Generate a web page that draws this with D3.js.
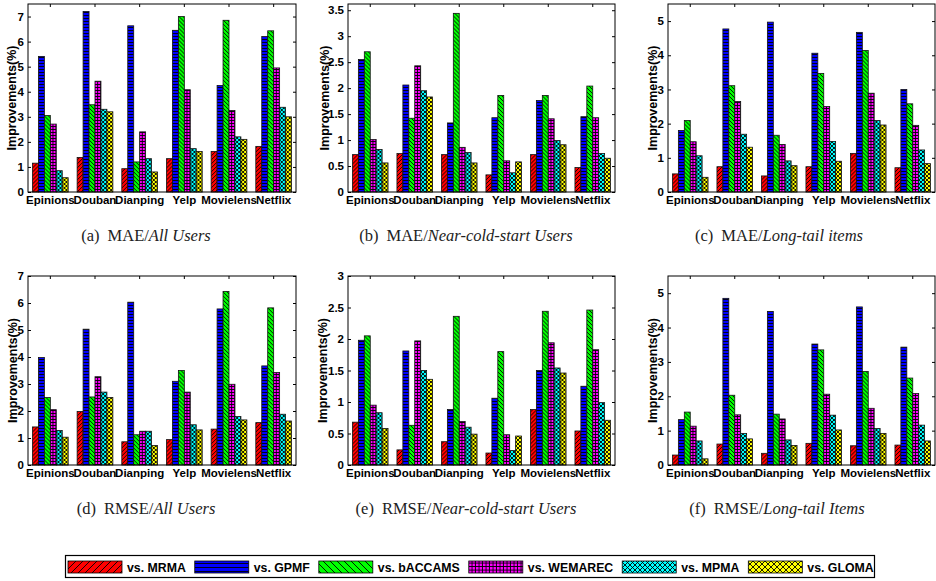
<!DOCTYPE html>
<html>
<head>
<meta charset="utf-8">
<script src="https://cdn.jsdelivr.net/npm/d3@7"></script>
<style>
  body { margin: 0; background: #fff; }
  svg { display: block; }
  .tick text { font-family: "Liberation Sans", Arial, sans-serif; font-weight: bold; }
</style>
</head>
<body>
<div id="chart"></div>
<script>
var datasets = ['Epinions', 'Douban', 'Dianping', 'Yelp', 'Movielens', 'Netflix'];
var methods = ['MRMA', 'GPMF', 'bACCAMS', 'WEMAREC', 'MPMA', 'GLOMA'];

// one row per dataset, one value per method (same order as methods)
var maeAllUsers = [
  [1.15, 5.41, 3.05, 2.71, 0.85, 0.57],
  [1.38, 7.20, 3.48, 4.42, 3.30, 3.20],
  [0.93, 6.63, 1.20, 2.40, 1.33, 0.80],
  [1.33, 6.45, 7.00, 4.08, 1.73, 1.62],
  [1.62, 4.25, 6.85, 3.25, 2.20, 2.10],
  [1.82, 6.20, 6.43, 4.95, 3.38, 3.00]
];
var maeColdStart = [
  [0.72, 2.55, 2.70, 1.01, 0.82, 0.56],
  [0.74, 2.06, 1.42, 2.43, 1.95, 1.83],
  [0.72, 1.33, 3.44, 0.86, 0.76, 0.56],
  [0.33, 1.43, 1.86, 0.60, 0.37, 0.58],
  [0.72, 1.76, 1.86, 1.41, 0.99, 0.91],
  [0.47, 1.45, 2.04, 1.43, 0.74, 0.65]
];
var maeLongTail = [
  [0.53, 1.80, 2.09, 1.47, 1.06, 0.43],
  [0.74, 4.77, 3.11, 2.65, 1.69, 1.31],
  [0.47, 4.97, 1.66, 1.39, 0.91, 0.77],
  [0.74, 4.06, 3.47, 2.50, 1.48, 0.90],
  [1.13, 4.67, 4.14, 2.89, 2.09, 1.96],
  [0.71, 3.00, 2.58, 1.95, 1.23, 0.83]
];
var rmseAllUsers = [
  [1.41, 3.98, 2.50, 2.05, 1.28, 1.03],
  [1.98, 5.03, 2.52, 3.27, 2.70, 2.50],
  [0.86, 6.03, 1.12, 1.25, 1.25, 0.72],
  [0.94, 3.10, 3.50, 2.70, 1.49, 1.30],
  [1.33, 5.78, 6.43, 2.99, 1.80, 1.67],
  [1.57, 3.67, 5.82, 3.43, 1.88, 1.63]
];
var rmseColdStart = [
  [0.68, 1.98, 2.05, 0.95, 0.83, 0.58],
  [0.24, 1.81, 0.63, 1.97, 1.50, 1.36],
  [0.37, 0.88, 2.36, 0.69, 0.60, 0.49],
  [0.19, 1.06, 1.80, 0.48, 0.23, 0.46],
  [0.88, 1.50, 2.44, 1.94, 1.54, 1.46],
  [0.54, 1.25, 2.46, 1.83, 0.99, 0.71]
];
var rmseLongTail = [
  [0.29, 1.32, 1.54, 1.13, 0.70, 0.18],
  [0.61, 4.85, 2.03, 1.46, 0.92, 0.76],
  [0.34, 4.47, 1.48, 1.34, 0.73, 0.57],
  [0.63, 3.52, 3.35, 2.06, 1.45, 1.02],
  [0.56, 4.60, 2.72, 1.65, 1.06, 0.92],
  [0.58, 3.43, 2.53, 2.08, 1.16, 0.70]
];

var ticksSeven = [0, 1, 2, 3, 4, 5, 6, 7];
var ticksFive = [0, 1, 2, 3, 4, 5];
var ticksHalf = [0, 0.5, 1, 1.5, 2, 2.5, 3, 3.5];
var ticksHalfThree = [0, 0.5, 1, 1.5, 2, 2.5, 3];

var width = 936;
var height = 581;

var colors = ['#ff0000', '#0000ff', '#00ff00', '#ff00ff', '#00ffff', '#ffff00'];
var kinds = ['fwd', 'horiz', 'back', 'grid', 'cross', 'cross'];

var svg = d3.select('#chart')
    .append('svg')
        .attr('width', width)
        .attr('height', height);

var defs = svg.append('defs');

// hatch tiles, small ones for the bars and larger ones for the legend
function makePattern(id, color, kind, s, lw) {
    var p = defs.append('pattern')
        .attr('id', id)
        .attr('patternUnits', 'userSpaceOnUse')
        .attr('width', s)
        .attr('height', s);
    p.append('rect').attr('width', s).attr('height', s).attr('fill', color);
    var d;
    if (kind == 'fwd') {
        d = 'M0,' + s + 'L' + s + ',0M-1,1L1,-1M' + (s - 1) + ',' + (s + 1) + 'L' + (s + 1) + ',' + (s - 1);
    } else if (kind == 'back') {
        d = 'M0,0L' + s + ',' + s + 'M-1,' + (s - 1) + 'L1,' + (s + 1) + 'M' + (s - 1) + ',-1L' + (s + 1) + ',1';
    } else if (kind == 'horiz') {
        d = 'M0,' + (s - 0.5) + 'L' + s + ',' + (s - 0.5);
    } else if (kind == 'grid') {
        d = 'M0,' + (s - 0.5) + 'L' + s + ',' + (s - 0.5) + 'M' + (s - 0.5) + ',0L' + (s - 0.5) + ',' + s;
    } else {
        d = 'M0,0L' + s + ',' + s + 'M0,' + s + 'L' + s + ',0';
    }
    p.append('path').attr('d', d).attr('stroke', '#000').attr('stroke-width', lw).attr('fill', 'none');
}

var barSizes = [4, 3, 4, 3, 4, 4];
var legendSizes = [7, 4, 7, 3.5, 5, 6];
methods.forEach(function(m, i) {
    makePattern('bar-' + i, colors[i], kinds[i], barSizes[i], 0.9);
    makePattern('leg-' + i, colors[i], kinds[i], legendSizes[i], 0.9);
});

var panels = [
    { data: maeAllUsers, ymax: 7.5, ticks: ticksSeven, left: 28, top: 4, w: 268, h: 188, labelOff: 16, tag: '(a)', metric: 'MAE/', group: 'All Users', cx: 146 },
    { data: maeColdStart, ymax: 3.62, ticks: ticksHalf, left: 348, top: 4, w: 267, h: 188, labelOff: 23, tag: '(b)', metric: 'MAE/', group: 'Near-cold-start Users', cx: 466 },
    { data: maeLongTail, ymax: 5.5, ticks: ticksFive, left: 668, top: 4, w: 267, h: 188, labelOff: 15, tag: '(c)', metric: 'MAE/', group: 'Long-tail items', cx: 779 },
    { data: rmseAllUsers, ymax: 7, ticks: ticksSeven, left: 28, top: 276, w: 268, h: 189, labelOff: 15, tag: '(d)', metric: 'RMSE/', group: 'All Users', cx: 146 },
    { data: rmseColdStart, ymax: 3, ticks: ticksHalfThree, left: 348, top: 276, w: 267, h: 189, labelOff: 25, tag: '(e)', metric: 'RMSE/', group: 'Near-cold-start Users', cx: 466 },
    { data: rmseLongTail, ymax: 5.5, ticks: ticksFive, left: 668, top: 276, w: 267, h: 189, labelOff: 15, tag: '(f)', metric: 'RMSE/', group: 'Long-tail Items', cx: 777 }
];

function drawPanel(p) {
    var g = svg.append('g')
        .attr('transform', 'translate(' + p.left + ',' + p.top + ')');

    var x0 = d3.scaleBand()
        .domain(datasets)
        .range([0, p.w])
        .paddingInner(0.2)
        .paddingOuter(0.1);

    var x1 = d3.scaleBand()
        .domain(methods)
        .range([0, x0.bandwidth()]);

    var y = d3.scaleLinear()
        .domain([0, p.ymax])
        .range([p.h, 0]);

    // bars
    var groups = g.selectAll('.group')
        .data(p.data)
        .enter()
        .append('g')
            .attr('class', 'group')
            .attr('transform', function(d, i) { return 'translate(' + x0(datasets[i]) + ',0)'; });

    groups.selectAll('rect')
        .data(function(d) { return d; })
        .enter()
        .append('rect')
            .attr('x', function(d, j) { return x1(methods[j]); })
            .attr('y', function(d) { return y(d); })
            .attr('width', x1.bandwidth())
            .attr('height', function(d) { return p.h - y(d); })
            .attr('fill', function(d, j) { return 'url(#bar-' + j + ')'; })
            .attr('stroke', '#111')
            .attr('stroke-width', 0.8);

    // left axis with labels, ticks pointing inward
    var yAxis = d3.axisLeft(y)
        .tickValues(p.ticks)
        .tickFormat(d3.format('~g'))
        .tickSizeInner(-3)
        .tickSizeOuter(0)
        .tickPadding(4);
    g.append('g').call(yAxis)
        .call(function(a) { a.select('.domain').remove(); })
        .selectAll('text')
            .attr('font-size', 11.5)
            .attr('fill', '#000');

    // right axis ticks only
    g.append('g')
        .attr('transform', 'translate(' + p.w + ',0)')
        .call(d3.axisRight(y).tickValues(p.ticks).tickSizeInner(-3).tickSizeOuter(0).tickFormat(''))
        .call(function(a) { a.select('.domain').remove(); });

    // top ticks at the category centres
    g.append('g')
        .call(d3.axisTop(x0).tickSizeInner(-3).tickSizeOuter(0).tickFormat(''))
        .call(function(a) { a.select('.domain').remove(); });

    // category names
    g.append('g')
        .attr('transform', 'translate(0,' + p.h + ')')
        .call(d3.axisBottom(x0).tickSize(0).tickPadding(4))
        .call(function(a) { a.select('.domain').remove(); })
        .selectAll('text')
            .attr('font-size', 11.5)
            .attr('fill', '#000');

    // frame
    g.append('rect')
        .attr('width', p.w)
        .attr('height', p.h)
        .attr('fill', 'none')
        .attr('stroke', '#000')
        .attr('stroke-width', 1);

    g.append('text')
        .attr('transform', 'translate(' + (-p.labelOff) + ',' + (p.h / 2) + ') rotate(-90)')
        .attr('text-anchor', 'middle')
        .attr('dy', '0.35em')
        .attr('font-family', '"Liberation Sans", Arial, sans-serif')
        .attr('font-weight', 'bold')
        .attr('font-size', 12.5)
        .text('Improvements(%)');

    // sub caption
    var cap = svg.append('text')
        .attr('x', p.cx)
        .attr('y', p.top + p.h + 49)
        .attr('text-anchor', 'middle')
        .attr('font-family', '"Liberation Serif", "Times New Roman", serif')
        .attr('font-size', 16.5)
        .attr('fill', '#222');
    cap.append('tspan').text(p.tag);
    cap.append('tspan').attr('dx', 8).text(p.metric);
    cap.append('tspan').attr('font-style', 'italic').text(p.group);
}

panels.forEach(drawPanel);

// legend
var legend = svg.append('g');

legend.append('rect')
    .attr('x', 65.5)
    .attr('y', 555.5)
    .attr('width', 809)
    .attr('height', 22)
    .attr('fill', '#fff')
    .attr('stroke', '#000')
    .attr('stroke-width', 1.2);

var lx = 68;
methods.forEach(function(m, i) {
    legend.append('rect')
        .attr('x', lx)
        .attr('y', 561)
        .attr('width', 54)
        .attr('height', 12)
        .attr('fill', 'url(#leg-' + i + ')')
        .attr('stroke', '#000')
        .attr('stroke-width', 0.8);
    var t = legend.append('text')
        .attr('x', lx + 59)
        .attr('y', 571.5)
        .attr('font-family', '"Liberation Sans", Arial, sans-serif')
        .attr('font-weight', 'bold')
        .attr('font-size', 12.3)
        .text('vs. ' + m);
    lx = lx + 59 + t.node().getComputedTextLength() + 9;
});
</script>
</body>
</html>
